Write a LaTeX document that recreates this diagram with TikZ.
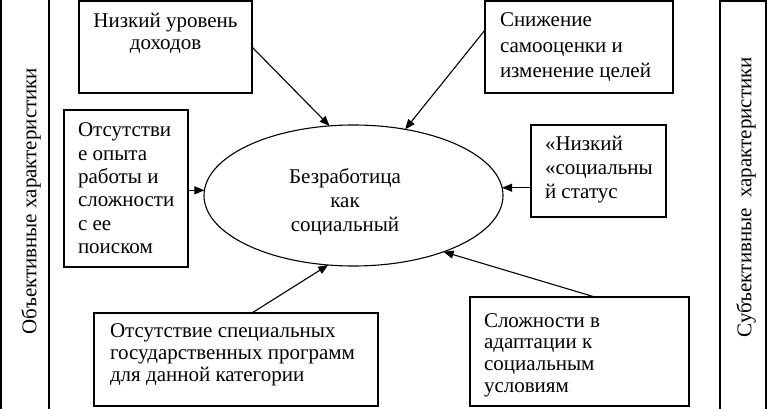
\documentclass[tikz,border=0pt]{standalone}
\usepackage{fontspec}
\setmainfont{Liberation Serif}
\usetikzlibrary{arrows.meta,calc,shapes.geometric}
\begin{document}
\begin{tikzpicture}[x=1pt,y=-1pt,
  every path/.style={line width=1.1pt},
  boxn/.style={draw, rectangle, inner sep=0pt, outer sep=0pt, anchor=north west},
  txt/.style={inner sep=0pt, outer sep=0pt, font=\fontsize{21}{23.5}\selectfont},
  arr/.style={-{Triangle[length=10pt,width=8pt]}, line width=1.1pt}]
\useasboundingbox (0,0) rectangle (768,409);

% side bars
\draw (1,0) -- (1,409);
\draw (49,0) -- (49,409);
\draw (720,409) -- (720,1) -- (766,1) -- (766,409);
\node[txt, rotate=90] (lt) at (31,201) {Объективные характеристики};
\node[txt, rotate=90] (rt) at (746,197) {Субъективные\ \ характеристики};

% boxes
\node[boxn, minimum width=173pt, minimum height=92pt] (b1) at (79,1) {};
\node[boxn, minimum width=124pt, minimum height=157pt] (b2) at (64,110) {};
\node[boxn, minimum width=188pt, minimum height=92pt] (b3) at (485,1) {};
\node[boxn, minimum width=135pt, minimum height=92pt] (b4) at (531,125) {};
\node[boxn, minimum width=219pt, minimum height=109pt] (b5) at (470,297) {};
\node[boxn, minimum width=284pt, minimum height=93pt] (b6) at (94,313) {};
\node[draw, ellipse, inner sep=0pt, outer sep=0pt, minimum width=299pt, minimum height=141pt] (e) at (353.5,195.5) {};

% texts
\node[txt, anchor=base] (t1) at (165.5,28) {\parbox[t]{170pt}{\centering\baselineskip=22pt Низкий уровень\\доходов}};
\node[txt, anchor=base west] (t2) at (78,137) {\parbox[t]{140pt}{\raggedright\baselineskip=23.3pt Отсутстви\\е опыта\\работы и\\сложности\\с ее\\поиском}};
\node[txt, anchor=base west] (t3) at (500,27) {\parbox[t]{200pt}{\raggedright\baselineskip=25.5pt Снижение\\самооценки и\\изменение целей}};
\node[txt, anchor=base west] (t4) at (545,150) {\parbox[t]{150pt}{\raggedright\baselineskip=24pt «Низкий\\«социальны\\й статус}};
\node[txt, anchor=base west] (t5) at (484,327) {\parbox[t]{260pt}{\raggedright\baselineskip=21.7pt Сложности в\\адаптации к\\социальным\\условиям}};
\node[txt, anchor=base west] (t6) at (110,337) {\parbox[t]{280pt}{\raggedright\baselineskip=22pt Отсутствие специальных\\государственных программ\\для данной категории}};
\node[txt, anchor=base] (te) at (345,183) {\parbox[t]{160pt}{\centering\baselineskip=24pt Безработица\\как\\социальный}};

% connectors
\draw[arr] (b1.east) -- (e.109.6);
\draw[arr] ($(b3.north west)!0.315!(b3.south west)$) -- (e.52.7);
\draw[arr] (b4.west |- e.3) -- (e.3);
\draw[arr] ($(b5.north west)!0.57!(b5.north east)$) -- (e.-32.9);
\draw[arr] ($(b6.north west)!0.556!(b6.north east)$) -- (e.250.4);
\draw[arr] (b2.east |- e.178) -- (e.178);
\end{tikzpicture}
\end{document}
